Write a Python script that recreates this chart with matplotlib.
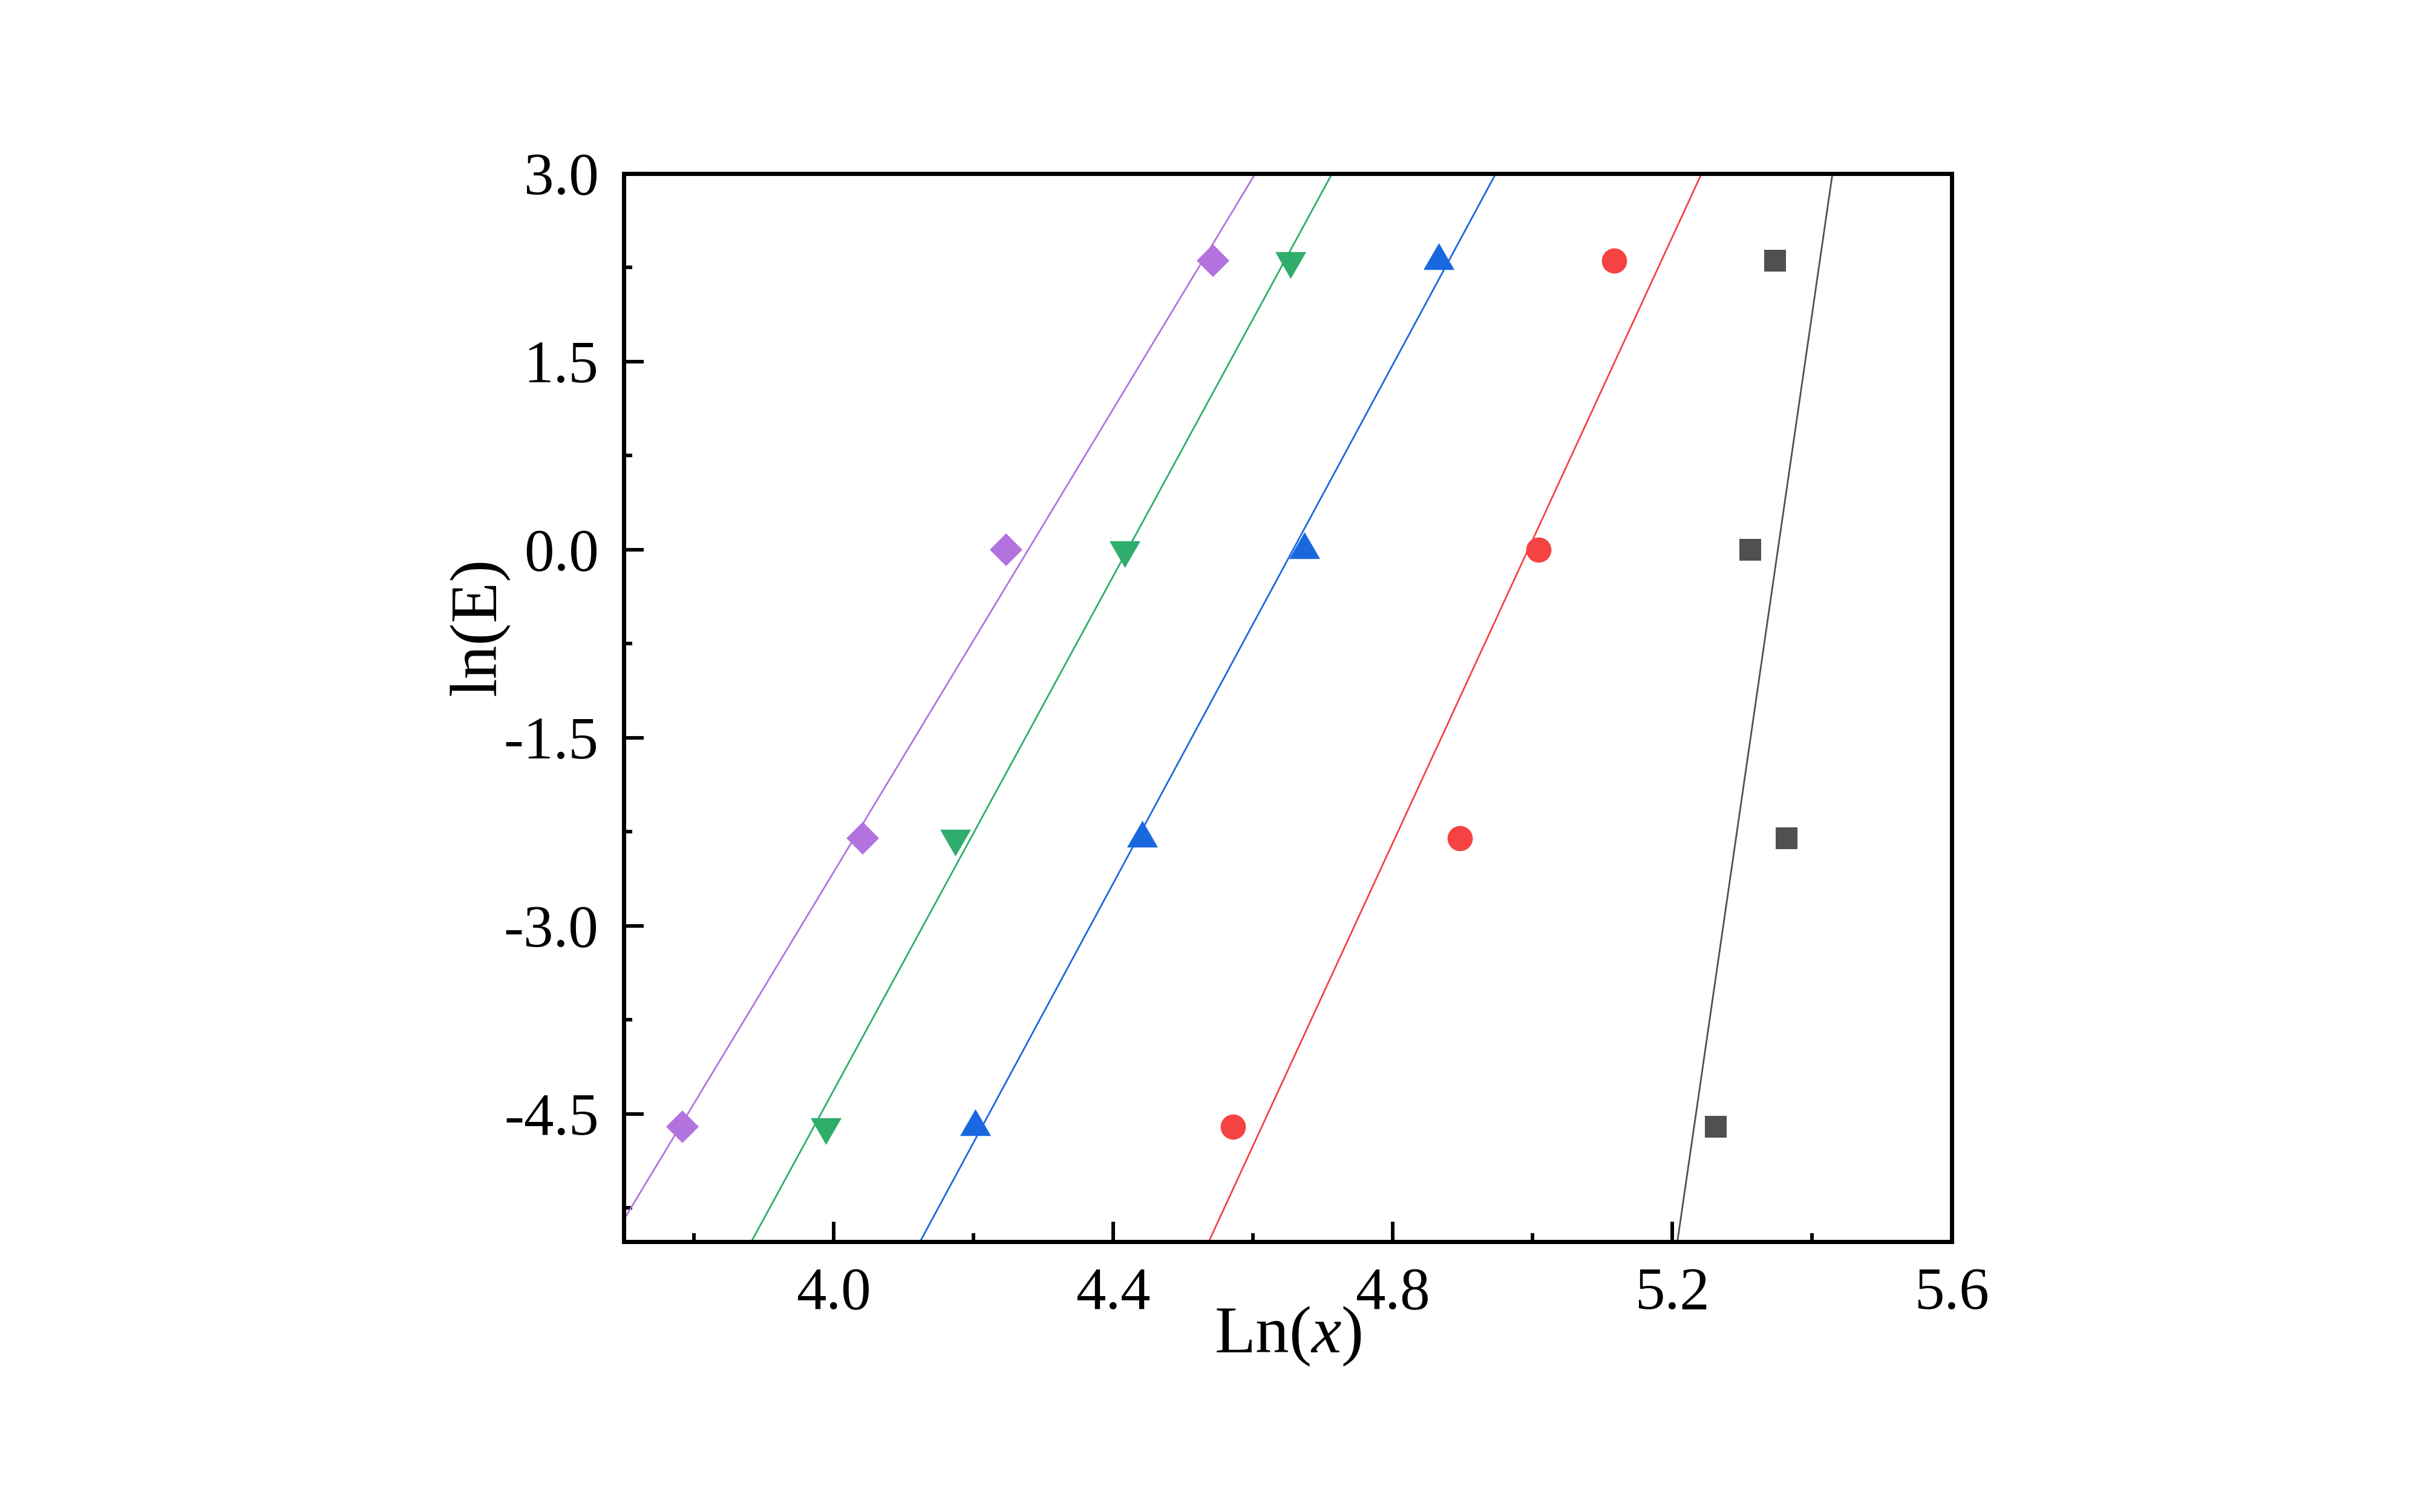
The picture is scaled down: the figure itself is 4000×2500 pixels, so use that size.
import numpy as np
import matplotlib
matplotlib.use("Agg")
import matplotlib.pyplot as plt
from matplotlib.ticker import MultipleLocator

# -----------------------------------
# Data
# -----------------------------------
lnE = [-4.605, -2.303, 0.0, 2.303]

x_square = [5.262, 5.364, 5.312, 5.347]
x_circle = [4.572, 4.896, 5.009, 5.117]
x_up = [4.203, 4.442, 4.674, 4.866]
x_down = [3.989, 4.174, 4.417, 4.654]
x_diamond = [3.784, 4.042, 4.247, 4.543]

colors = ["#505050", "#F54242", "#1A68E0", "#2EAD6B", "#B273DF"]

# equilateral triangles (matplotlib's ^ / v are too tall)
tri_up = [(-1, -0.577), (1, -0.577), (0, 1.155), (-1, -0.577)]
tri_down = [(-1, 0.577), (1, 0.577), (0, -1.155), (-1, 0.577)]

series = [
    (x_square, "s", 10.6),
    (x_circle, "o", 12.0),
    (x_up, tri_up, 17.0),
    (x_down, tri_down, 17.0),
    (x_diamond, "D", 11.0),
]

# -----------------------------------
# Style
# -----------------------------------
plt.rcParams["font.family"] = ["Liberation Serif", "DejaVu Serif"]
plt.rcParams["mathtext.fontset"] = "custom"
plt.rcParams["mathtext.rm"] = "Liberation Serif"
plt.rcParams["mathtext.it"] = "Liberation Serif:italic"
plt.rcParams["axes.unicode_minus"] = False

fig = plt.figure(figsize=(16, 10), dpi=250)
ax = fig.add_axes([0.2578, 0.1788, 0.5487, 0.7064])

x_line = np.array([3.5, 5.8])
for (xs, marker, ms), col in zip(series, colors):
    ax.plot(xs, lnE, linestyle="none", marker=marker, markersize=ms,
            color=col, markeredgewidth=0, zorder=3)
    # linear fit through each series
    slope, icpt = np.polyfit(xs, lnE, 1)
    ax.plot(x_line, slope * x_line + icpt, color=col, linewidth=0.8, zorder=2)

ax.set_xlim(3.7, 5.6)
ax.set_ylim(-5.52, 3.0)

ax.xaxis.set_major_locator(MultipleLocator(0.4))
ax.xaxis.set_minor_locator(MultipleLocator(0.2))
ax.yaxis.set_major_locator(MultipleLocator(1.5))
ax.yaxis.set_minor_locator(MultipleLocator(0.75))
ax.xaxis.set_major_formatter(matplotlib.ticker.FormatStrFormatter("%.1f"))
ax.yaxis.set_major_formatter(matplotlib.ticker.FormatStrFormatter("%.1f"))

ax.tick_params(which="both", direction="in", top=False, right=False,
               width=1.7, labelsize=28.5)
ax.tick_params(which="major", length=9.5, pad=12)
ax.tick_params(which="minor", length=4)
for sp in ax.spines.values():
    sp.set_linewidth(2.0)

ax.set_xlabel("Ln($x$)", fontsize=32, labelpad=-8)
ax.set_ylabel("ln(E)", fontsize=32)
ax.yaxis.set_label_coords(-0.086, 0.576)

fig.savefig("out.png", dpi=250)
